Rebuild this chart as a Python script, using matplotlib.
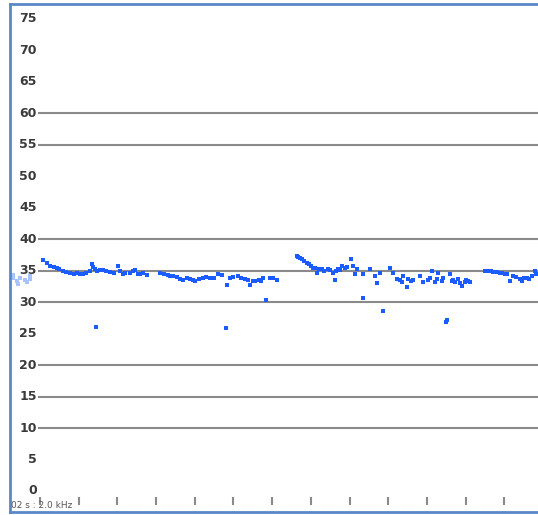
import matplotlib.pyplot as plt

# y axis labels and which of them carry a grid line
label_vals = [0, 5, 10, 15, 20, 25, 30, 35, 40, 45, 50, 55, 60, 65, 70, 75]
grid_vals = [10, 15, 20, 30, 35, 40, 55, 60]
tick_x = [0, 1, 2, 3, 4, 5, 6, 7, 8, 9, 10, 11, 12]
caption = "02 s : 2.0 kHz"

# faint points before the start
faint_x = [-0.70, -0.60, -0.52, -0.39, -0.26, -0.70, -0.57, -0.34, -0.26]
faint_y = [34.3, 33.4, 33.8, 33.5, 34.1, 33.9, 32.9, 33.2, 33.7]

# measured points
pts_x = [
    0.09, 0.18, 0.26, 0.35, 0.43, 0.50, 0.59, 0.68, 0.78, 0.88, 0.95, 1.03,
    1.12, 1.20, 1.28, 1.34, 1.38, 1.42, 1.44, 1.48, 1.55, 1.62, 1.70, 1.81,
    1.90, 2.02, 2.08, 2.14, 2.20, 2.33, 2.40, 2.45, 2.52, 2.58, 2.65, 2.76,
    3.10, 3.20, 3.30, 3.36, 3.45, 3.53, 3.62, 3.70, 3.80, 3.88, 3.95, 4.01,
    4.10, 4.21, 4.30, 4.39, 4.50, 4.60, 4.70, 4.81, 4.82, 4.91, 5.00, 5.12,
    5.20, 5.30, 5.38, 5.43, 5.50, 5.56, 5.65, 5.70, 5.76, 5.83, 5.94, 6.02,
    6.12,
    6.63, 6.68, 6.72, 6.76, 6.82, 6.89, 6.95, 7.00, 7.05, 7.10, 7.15, 7.20,
    7.28, 7.35, 7.44, 7.50, 7.57, 7.62, 7.65, 7.70, 7.75, 7.80, 7.88, 7.93,
    8.05, 8.09, 8.14, 8.18, 8.35, 8.35, 8.53, 8.66, 8.70, 8.79, 8.87, 9.04,
    9.12,
    9.22, 9.30, 9.35, 9.38, 9.48, 9.51, 9.58, 9.63, 9.82, 9.89, 10.02, 10.08,
    10.12, 10.21, 10.25, 10.29, 10.38, 10.42, 10.49, 10.51, 10.59, 10.64,
    10.68, 10.72, 10.81, 10.85, 10.90, 10.98, 11.02, 11.07, 11.11,
    11.50, 11.55, 11.60, 11.65, 11.71, 11.80, 11.89, 11.95, 12.02, 12.08,
    12.14, 12.23, 12.30, 12.40, 12.45, 12.50, 12.58, 12.65, 12.71, 12.79,
    12.83,
]
pts_y = [
    36.7, 36.2, 35.8, 35.6, 35.4, 35.2, 35.0, 34.8, 34.6, 34.5, 34.7, 34.5,
    34.4, 34.6, 35.0, 36.0, 35.6, 35.3, 26.0, 35.0, 35.1, 35.1, 34.9, 34.8,
    34.7, 35.7, 35.0, 34.5, 34.6, 34.7, 34.9, 35.1, 34.4, 34.5, 34.6, 34.3,
    34.7, 34.5, 34.3, 34.2, 34.1, 34.0, 33.7, 33.6, 33.8, 33.7, 33.5, 33.4,
    33.7, 33.9, 34.0, 33.8, 33.9, 34.5, 34.3, 25.9, 32.7, 33.9, 34.0, 34.2,
    33.9, 33.7, 33.5, 32.7, 33.3, 33.4, 33.6, 33.4, 33.9, 30.4, 33.9, 33.8,
    33.5,
    37.4, 37.1, 37.0, 36.8, 36.5, 36.3, 36.0, 35.8, 35.5, 35.4, 34.7, 35.2,
    35.3, 35.0, 35.3, 35.1, 34.7, 33.5, 35.0, 35.3, 35.1, 35.8, 35.5, 35.6,
    36.8, 35.8, 34.5, 35.3, 34.5, 30.7, 35.3, 34.1, 33.0, 34.6, 28.6, 35.5,
    34.7,
    33.7, 33.6, 33.2, 34.2, 32.4, 33.7, 33.4, 33.5, 34.2, 33.2, 33.5, 33.9,
    35.0, 33.2, 33.7, 34.7, 33.4, 33.9, 26.9, 27.2, 34.5, 33.4,
    33.6, 33.2, 33.7, 33.0, 32.5, 33.2, 33.6, 33.4, 33.2,
    35.0, 35.0, 34.9, 34.9, 34.8, 34.8, 34.7, 34.6, 34.5, 34.4,
    33.4, 34.1, 34.0, 33.7, 33.3, 33.8, 33.9, 33.7, 34.1, 34.9,
    34.5,
]

fig = plt.figure(figsize=(5.38, 5.15), dpi=100)
ax = fig.add_axes([10 / 538, 3 / 515, 528 / 538, 508 / 515])
ax.set_xlim(-0.775, 12.87)
ax.set_ylim(-3.34, 77.38)

ax.hlines(grid_vals, -0.05, 13, colors="#8a8a8a", lw=1.5, zorder=1)
ax.vlines(tick_x, -2.2, -0.95, colors="#8a8a8a", lw=1.5)

for v in label_vals:
    ax.text(-0.08, v, str(v), ha="right", va="center", fontsize=9,
            fontweight="bold", color="#3a3a3a")

ax.plot(faint_x, faint_y, "s", color="#a9c3ff", ms=2.2, mew=0)
ax.plot(pts_x, pts_y, "s", color="#1a5cff", ms=2.6, mew=0, zorder=3)

ax.text(-0.76, -2.3, caption, ha="left", va="center", fontsize=6.5,
        color="#555555")

ax.set_xticks([])
ax.set_yticks([])
for side in ["left", "top", "bottom"]:
    ax.spines[side].set_color("#5b87c9")
    ax.spines[side].set_linewidth(2)
ax.spines["right"].set_visible(False)

fig.savefig("out.png", dpi=100)
